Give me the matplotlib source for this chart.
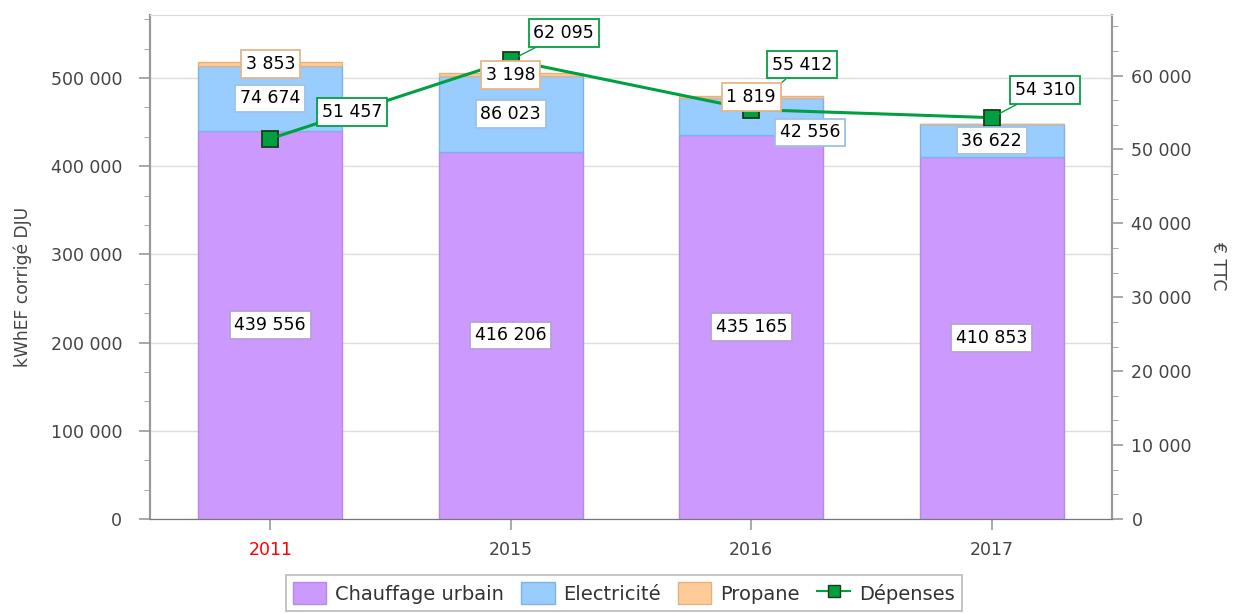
import matplotlib
matplotlib.use("Agg")
import matplotlib.pyplot as plt
from matplotlib.ticker import FuncFormatter, MultipleLocator
from matplotlib.patches import Patch
from matplotlib.lines import Line2D
import numpy as np

plt.rcParams['font.family'] = ['DejaVu Sans']

years = ["2011", "2015", "2016", "2017"]
chauffage = [439556, 416206, 435165, 410853]
electricite = [74674, 86023, 42556, 36622]
propane = [3853, 3198, 1819, 0]
depenses = [51457, 62095, 55412, 54310]

c_ch, e_ch = "#CC99FF", "#B58AE6"
c_el, e_el = "#99CCFF", "#7FB3E6"
c_pr, e_pr = "#FFCC99", "#E6B380"
c_dep = "#00A040"

NUM_FS = 12.5

fig = plt.figure(figsize=(12.36, 6.14), dpi=100)
ax = fig.add_axes([150/1236, 1-519/614, (1112-150)/1236, (519-15)/614])
ax2 = ax.twinx()

x = np.arange(len(years))
w = 0.6
ax.bar(x, chauffage, w, color=c_ch, edgecolor=e_ch, linewidth=1, zorder=2)
bot2 = np.array(chauffage)
ax.bar(x, electricite, w, bottom=bot2, color=c_el, edgecolor=e_el, linewidth=1, zorder=2)
bot3 = bot2 + np.array(electricite)
ax.bar(x, propane, w, bottom=bot3, color=c_pr, edgecolor=e_pr, linewidth=1, zorder=2)

ax.set_xlim(-0.5, 3.5)
ax.set_ylim(0, 571500)
ax2.set_ylim(0, 68200)

fmt = FuncFormatter(lambda v, p: f"{int(round(v)):,}".replace(",", " "))
ax.yaxis.set_major_locator(MultipleLocator(100000))
ax.yaxis.set_minor_locator(MultipleLocator(100000/3))
ax.yaxis.set_major_formatter(fmt)
ax2.yaxis.set_major_locator(MultipleLocator(10000))
ax2.yaxis.set_minor_locator(MultipleLocator(10000/3))
ax2.yaxis.set_major_formatter(fmt)

ax.grid(axis='y', color="#DDDDDD", linewidth=1, zorder=0)
ax.set_axisbelow(True)
ax.set_xticks(x)
ax.set_xticklabels(years)

for a in (ax, ax2):
    a.spines['top'].set_color("#DDDDDD")
    a.spines['left'].set_color("#999999")
    a.spines['right'].set_color("#999999")
    a.spines['bottom'].set_color("#777777")
    a.spines['left'].set_linewidth(1.5)
    a.spines['right'].set_linewidth(1.5)
    a.tick_params(axis='both', which='major', labelsize=NUM_FS, colors="#999999",
                  labelcolor="#444444", length=8, width=1.2)
    a.tick_params(axis='y', which='minor', length=4, colors="#999999")
ax.tick_params(axis='y', pad=12)
ax2.tick_params(axis='y', pad=6)
ax.tick_params(axis='x', pad=8)
for i, t in enumerate(ax.get_xticklabels()):
    t.set_color("red" if i == 0 else "#444444")

ax.set_ylabel("kWhEF corrigé DJU", fontsize=12.3, color="#444444")
ax.yaxis.set_label_coords((32-150)/962, (519-287)/504)
ax2.set_ylabel("€ TTC", fontsize=12.3, color="#444444", rotation=270, va='center')
ax2.yaxis.set_label_coords((1218-150)/962, (519-266)/504)

ax2.plot(x, depenses, color=c_dep, linewidth=2.2, marker='s', markersize=11,
         markerfacecolor="#00A040", markeredgecolor="#1A3A1A", markeredgewidth=1.3, zorder=5)

def lab(v):
    return f"{v:,}".replace(",", " ")

def box(ec):
    return dict(boxstyle="square,pad=0.28", fc="white", ec=ec, lw=1.3)

# bar labels drawn on the top (twin) axes so they can cover the expense line
for i in range(4):
    ax2.annotate(lab(chauffage[i]), (x[i], chauffage[i]/2), xycoords=ax.transData,
                 ha='center', va='center', fontsize=NUM_FS, bbox=box("#B8A0D8"), zorder=6)

el_off = [(0, 0), (0, 0), (59, -16), (0, 0)]
for i in range(4):
    ax2.annotate(lab(electricite[i]), (x[i], bot2[i] + electricite[i]/2), xycoords=ax.transData,
                 xytext=(el_off[i][0]*0.72, el_off[i][1]*0.72), textcoords='offset points',
                 ha='center', va='center', fontsize=NUM_FS, bbox=box("#9DC3E6"), zorder=6)

for i in range(3):
    ax2.annotate(lab(propane[i]), (x[i], bot3[i] + propane[i]/2), xycoords=ax.transData,
                 ha='center', va='center', fontsize=NUM_FS, bbox=box("#E6B58A"), zorder=9)

dep_off = [(82, 27), (53, 27), (51, 45), (53, 28)]
for i in range(4):
    ax2.annotate(lab(depenses[i]), (x[i], depenses[i]),
                 xytext=(dep_off[i][0]*0.72, dep_off[i][1]*0.72), textcoords='offset points',
                 ha='center', va='center', fontsize=NUM_FS, bbox=box(c_dep),
                 arrowprops=dict(arrowstyle='-', color=c_dep, lw=1, shrinkA=0, shrinkB=0),
                 zorder=8)

handles = [Patch(fc=c_ch, ec=e_ch), Patch(fc=c_el, ec=e_el), Patch(fc=c_pr, ec=e_pr),
           Line2D([], [], color=c_dep, lw=1.5, marker='s', markersize=8,
                  markerfacecolor="#00A040", markeredgecolor="#1A3A1A")]
leg = fig.legend(handles, ["Chauffage urbain", "Electricité", "Propane", "Dépenses"],
                 loc='upper center', bbox_to_anchor=(624/1236, 1-575/614), ncol=4,
                 fontsize=14, frameon=True, fancybox=False, edgecolor="#AAAAAA",
                 handlelength=1.7, handleheight=1.4, columnspacing=0.9, handletextpad=0.45,
                 borderpad=0.35, borderaxespad=0)
leg.get_frame().set_linewidth(1.2)
for t in leg.get_texts():
    t.set_color("#333333")

fig.savefig("out.png", dpi=100)
